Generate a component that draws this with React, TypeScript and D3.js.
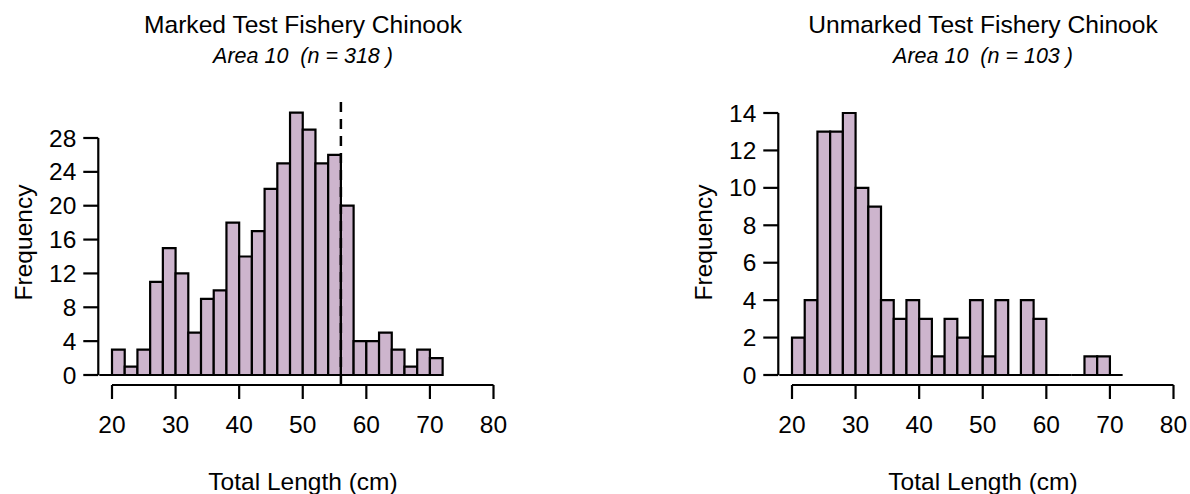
import React from "react";
import * as d3 from "d3";

// Bin breaks: 18..72 by 2 (first bin 18-20 is empty)
const binStart = 18;
const binWidth = 2;
const markedCounts = [0, 3, 1, 3, 11, 15, 12, 5, 9, 10, 18, 14, 17, 22, 25, 31, 29, 25, 26, 20, 4, 4, 5, 3, 1, 3, 2];
const unmarkedCounts = [0, 2, 4, 13, 13, 14, 10, 9, 4, 3, 4, 3, 1, 3, 2, 4, 1, 4, 0, 4, 3, 0, 0, 0, 1, 1, 0];

const xTicks = [20, 30, 40, 50, 60, 70, 80];
const markedYTicks = [0, 4, 8, 12, 16, 20, 24, 28];
const unmarkedYTicks = [0, 2, 4, 6, 8, 10, 12, 14];

const markedTitle = "Marked Test Fishery Chinook";
const markedSub = "Area 10  (n = 318 )";
const unmarkedTitle = "Unmarked Test Fishery Chinook";
const unmarkedSub = "Area 10  (n = 103 )";
const xLabel = "Total Length (cm)";
const yLabel = "Frequency";
const markedRefLine = 56;

const FONT = "'Liberation Sans', Arial, sans-serif";
const FILL = "#CDB5CD";

type PanelProps = {
  offsetX: number;
  counts: number[];
  yTicks: number[];
  title: string;
  sub: string;
  refLine?: number;
};

function Panel({ offsetX, counts, yTicks, title, sub, refLine }: PanelProps) {
  const x = d3.scaleLinear().domain([20, 80]).range([112 + offsetX, 493.5 + offsetX]);
  const yMax = yTicks[yTicks.length - 1];
  const y = d3.scaleLinear().domain([0, yMax]).range([375, 375 - (yMax === 28 ? 237 : 262)]);
  const axisY = 385;
  const yAxisX = x(binStart) - 1;
  const center = 303 + offsetX;

  const bars = counts.map((c, i) => {
    const x0 = x(binStart + i * binWidth);
    const x1 = x(binStart + (i + 1) * binWidth);
    const p = d3.path();
    p.moveTo(x0, y(0));
    p.lineTo(x0, y(c));
    p.lineTo(x1, y(c));
    p.lineTo(x1, y(0));
    p.closePath();
    return <path key={i} d={p.toString()} fill={FILL} stroke="#000" strokeWidth={2.2} strokeLinejoin="miter" />;
  });

  return (
    <g fontFamily={FONT} fill="#000">
      <text x={center} y={33} textAnchor="middle" fontSize={24.6}>{title}</text>
      <text x={center} y={63} textAnchor="middle" fontSize={21.5} fontStyle="italic" style={{ whiteSpace: "pre" }}>{sub}</text>
      {bars}
      {refLine !== undefined && (
        <line x1={x(refLine)} x2={x(refLine)} y1={102} y2={axisY} stroke="#000" strokeWidth={2.5} strokeDasharray="10,7" />
      )}
      {/* x axis */}
      <line x1={x(20)} x2={x(80)} y1={axisY} y2={axisY} stroke="#000" strokeWidth={2.2} />
      {xTicks.map((t) => (
        <g key={t}>
          <line x1={x(t)} x2={x(t)} y1={axisY} y2={axisY + 14} stroke="#000" strokeWidth={2.2} />
          <text x={x(t)} y={433} textAnchor="middle" fontSize={24.5}>{t}</text>
        </g>
      ))}
      <text x={center} y={490} textAnchor="middle" fontSize={24.5}>{xLabel}</text>
      {/* y axis */}
      <line x1={yAxisX} x2={yAxisX} y1={y(0)} y2={y(yMax)} stroke="#000" strokeWidth={2.2} />
      {yTicks.map((t) => (
        <g key={t}>
          <line x1={yAxisX - 15} x2={yAxisX} y1={y(t)} y2={y(t)} stroke="#000" strokeWidth={2.2} />
          <text x={yAxisX - 22} y={y(t)} dy="0.35em" textAnchor="end" fontSize={24.5}>{t}</text>
        </g>
      ))}
      <text transform={`translate(${32 + offsetX},242.5) rotate(-90)`} textAnchor="middle" fontSize={24.5}>{yLabel}</text>
    </g>
  );
}

export default function App() {
  return (
    <svg width={1190} height={494} style={{ position: "absolute", left: 0, top: 0, background: "#fff" }}>
      <rect width={1190} height={494} fill="#fff" />
      <Panel offsetX={0} counts={markedCounts} yTicks={markedYTicks} title={markedTitle} sub={markedSub} refLine={markedRefLine} />
      <Panel offsetX={680} counts={unmarkedCounts} yTicks={unmarkedYTicks} title={unmarkedTitle} sub={unmarkedSub} />
    </svg>
  );
}
